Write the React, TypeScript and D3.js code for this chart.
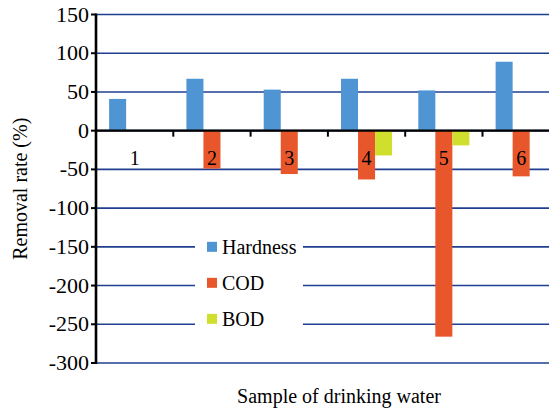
import React, { useEffect, useRef } from "react";
import * as d3 from "d3";

const samples = ["1", "2", "3", "4", "5", "6"];
const hardness = [41, 67, 53, 67, 52, 89];
const cod = [0, -49, -56, -63, -266, -59];
const bod = [0, 0, 0, -32, -19, 0];
const seriesNames = ["Hardness", "COD", "BOD"];
const seriesColors = ["#4f95d3", "#e8572b", "#d0df2e"];
const yTicks = [150, 100, 50, 0, -50, -100, -150, -200, -250, -300];

const W = 549;
const H = 408;
const left = 96;
const top = 14.5;
const bottom = 363;
const catWidth = 77.3;
const SERIF = '"Liberation Serif", Tinos, Times, serif';

export default function App() {
  const ref = useRef<SVGSVGElement | null>(null);

  useEffect(() => {
    const svg = d3.select(ref.current);
    svg.selectAll("*").remove();

    const x = d3
      .scaleBand<string>()
      .domain(samples)
      .range([left, left + catWidth * samples.length])
      .paddingInner(0)
      .paddingOuter(0);
    const y = d3.scaleLinear().domain([-300, 150]).range([bottom, top]);
    const inner = d3
      .scaleBand<string>()
      .domain(seriesNames)
      .range([0, x.bandwidth()])
      .paddingOuter(0.77)
      .paddingInner(0);

    // gridlines
    svg
      .append("g")
      .selectAll("line")
      .data(yTicks)
      .join("line")
      .attr("x1", left)
      .attr("x2", W + 20)
      .attr("y1", (d) => y(d))
      .attr("y2", (d) => y(d))
      .attr("stroke", "#1f3f8e")
      .attr("stroke-width", 1.6);

    // bars
    const series = [hardness, cod, bod];
    series.forEach((vals, si) => {
      svg
        .append("g")
        .selectAll("rect")
        .data(vals.map((v, i) => ({ v, s: samples[i] })).filter((d) => d.v !== 0))
        .join("rect")
        .attr("x", (d) => (x(d.s) as number) + (inner(seriesNames[si]) as number))
        .attr("width", inner.bandwidth())
        .attr("y", (d) => y(Math.max(0, d.v)))
        .attr("height", (d) => Math.abs(y(d.v) - y(0)))
        .attr("fill", seriesColors[si]);
    });

    // zero line and category ticks
    svg
      .append("line")
      .attr("x1", left)
      .attr("x2", W + 20)
      .attr("y1", y(0))
      .attr("y2", y(0))
      .attr("stroke", "#000")
      .attr("stroke-width", 2.2);
    svg
      .append("g")
      .selectAll("line")
      .data(samples.slice(1))
      .join("line")
      .attr("x1", (d) => x(d) as number)
      .attr("x2", (d) => x(d) as number)
      .attr("y1", y(0))
      .attr("y2", y(0) + 6)
      .attr("stroke", "#000")
      .attr("stroke-width", 2);

    const label = (g: any) =>
      g.attr("font-family", SERIF).style("font-family", SERIF).attr("fill", "#000");

    // category labels
    svg
      .append("g")
      .selectAll("text")
      .data(samples)
      .join("text")
      .attr("x", (d) => (x(d) as number) + x.bandwidth() / 2)
      .attr("y", y(0) + 34)
      .attr("text-anchor", "middle")
      .attr("font-size", 20)
      .call(label)
      .text((d) => d);

    // y axis
    svg
      .append("line")
      .attr("x1", left)
      .attr("x2", left)
      .attr("y1", top - 1)
      .attr("y2", bottom + 1)
      .attr("stroke", "#000")
      .attr("stroke-width", 2.6);
    svg
      .append("g")
      .selectAll("line")
      .data(yTicks)
      .join("line")
      .attr("x1", left - 5)
      .attr("x2", left)
      .attr("y1", (d) => y(d))
      .attr("y2", (d) => y(d))
      .attr("stroke", "#000")
      .attr("stroke-width", 2);
    svg
      .append("g")
      .selectAll("text")
      .data(yTicks)
      .join("text")
      .attr("x", left - 7)
      .attr("y", (d) => y(d) + 7)
      .attr("text-anchor", "end")
      .attr("font-size", 22)
      .call(label)
      .text((d) => String(d));

    // axis titles
    svg
      .append("text")
      .attr("transform", `translate(27, ${(top + bottom) / 2}) rotate(-90)`)
      .attr("text-anchor", "middle")
      .attr("font-size", 20)
      .call(label)
      .text("Removal rate (%)");
    svg
      .append("text")
      .attr("x", 339)
      .attr("y", 403)
      .attr("text-anchor", "middle")
      .attr("font-size", 20)
      .call(label)
      .text("Sample of drinking water");

    // legend
    svg
      .append("rect")
      .attr("x", 195)
      .attr("y", 228)
      .attr("width", 108)
      .attr("height", 112)
      .attr("fill", "#fff");
    const items = svg
      .append("g")
      .selectAll("g")
      .data(seriesNames)
      .join("g")
      .attr("transform", (_, i) => `translate(0, ${y(-150) + i * 36})`);
    items
      .append("rect")
      .attr("x", 207)
      .attr("y", -5)
      .attr("width", 10)
      .attr("height", 10)
      .attr("fill", (_, i) => seriesColors[i]);
    items
      .append("text")
      .attr("x", 222)
      .attr("y", 7)
      .attr("font-size", 20)
      .call(label)
      .text((d) => d);
  }, []);

  return (
    <div>
      <style>{`svg.chart text { font-family: "Liberation Serif", Tinos, Times, serif !important; }`}</style>
      <svg
        ref={ref}
        className="chart"
        width={W}
        height={H}
        style={{ position: "absolute", left: 0, top: 0, background: "#fff" }}
      />
    </div>
  );
}
